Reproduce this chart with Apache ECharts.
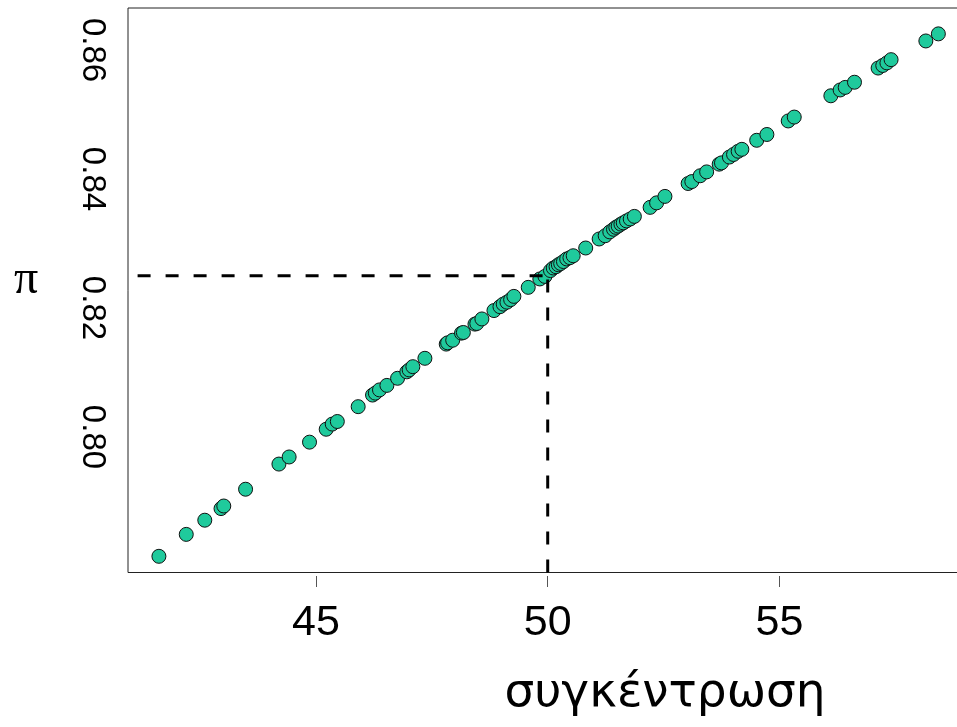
<!DOCTYPE html>
<html>
<head>
<meta charset="utf-8">
<script src="https://cdn.jsdelivr.net/npm/echarts@6/dist/echarts.min.js"></script>
<style>
html,body{margin:0;padding:0;background:#fff;}
#chart{width:957px;height:727px;}
</style>
</head>
<body>
<div id="chart"></div>
<script>
// concentration (x) and probability π (y)
const concentration = [
  41.61, 42.20, 42.60, 42.95, 43.01, 43.48, 44.20, 44.42, 44.86, 45.22,
  45.35, 45.46, 45.91, 46.22, 46.28, 46.37, 46.53, 46.76, 46.96, 47.01,
  47.09, 47.35, 47.81, 47.84, 47.95, 48.14, 48.18, 48.43, 48.47, 48.58,
  48.84, 48.97, 49.04, 49.12, 49.20, 49.27, 49.58, 49.83, 49.94, 50.06,
  50.12, 50.18, 50.23, 50.28, 50.34, 50.41, 50.48, 50.55, 50.82, 51.11,
  51.24, 51.34, 51.42, 51.47, 51.52, 51.58, 51.63, 51.70, 51.78, 51.87,
  52.21, 52.35, 52.53, 53.03, 53.11, 53.29, 53.43, 53.70, 53.75, 53.92,
  54.01, 54.11, 54.19, 54.51, 54.73, 55.19, 55.32, 56.11, 56.31, 56.42,
  56.62, 57.13, 57.23, 57.32, 57.41, 58.16, 58.43
];
const probability = [
  0.7815, 0.7849, 0.7871, 0.7889, 0.7893, 0.7919, 0.7958, 0.7969, 0.7992, 0.8012,
  0.8020, 0.8024, 0.8047, 0.8065, 0.8068, 0.8073, 0.8080, 0.8091, 0.8101, 0.8104,
  0.8109, 0.8122, 0.8144, 0.8146, 0.8150, 0.8161, 0.8162, 0.8175, 0.8176, 0.8183,
  0.8196, 0.8202, 0.8206, 0.8209, 0.8213, 0.8218, 0.8232, 0.8245, 0.8249, 0.8258,
  0.8262, 0.8264, 0.8267, 0.8269, 0.8272, 0.8276, 0.8278, 0.8281, 0.8293, 0.8307,
  0.8312, 0.8318, 0.8322, 0.8325, 0.8327, 0.8330, 0.8332, 0.8335, 0.8338, 0.8342,
  0.8356, 0.8363, 0.8373, 0.8393, 0.8396, 0.8405, 0.8411, 0.8423, 0.8425, 0.8434,
  0.8438, 0.8443, 0.8446, 0.8460, 0.8469, 0.8490, 0.8496, 0.8529, 0.8538, 0.8542,
  0.8550, 0.8572, 0.8576, 0.8580, 0.8585, 0.8614, 0.8625
];
const xTicks = [45, 50, 55];
const yTicks = [0.80, 0.82, 0.84, 0.86];
const refX = 50;
const refY = 0.825;
const xRange = [40.943, 58.897];
const yRange = [0.77899, 0.86651];
const refLineStartX = 41.15;
const xTitle = 'συγκέντρωση';
const yTitle = 'π';

const points = concentration.map((c, i) => [c, probability[i]]);

const chart = echarts.init(document.getElementById('chart'), null, {renderer: 'canvas'});
chart.setOption({
  animation: false,
  backgroundColor: '#ffffff',
  grid: {
    left: 128, top: 8, width: 832, height: 564.5,
    show: true, borderColor: '#222', borderWidth: 1,
    containLabel: false, outerBoundsMode: 'none'
  },
  xAxis: {
    type: 'value', min: xRange[0], max: xRange[1],
    offset: 3.5,
    axisLine: {show: false},
    splitLine: {show: false},
    axisTick: {show: true, length: 11, customValues: xTicks, lineStyle: {color: '#555', width: 1}},
    axisLabel: {
      customValues: xTicks, margin: 26,
      fontSize: 43, fontFamily: 'Liberation Sans, Arial, sans-serif', color: '#000'
    }
  },
  yAxis: {
    type: 'value', min: yRange[0], max: yRange[1],
    axisLine: {show: false},
    splitLine: {show: false},
    axisTick: {show: false},
    axisLabel: {
      customValues: yTicks, rotate: -90, margin: 19,
      formatter: v => v.toFixed(2),
      fontSize: 33, fontFamily: 'Liberation Sans, Arial, sans-serif', color: '#000'
    }
  },
  graphic: [
    {type: 'text', x: 665, y: 694, style: {text: xTitle, font: '47px "DejaVu Sans", "Liberation Sans", sans-serif', fill: '#000', textAlign: 'center', textVerticalAlign: 'middle'}},
    {type: 'text', x: 26, y: 280, style: {text: yTitle, font: '48px "Liberation Serif", "Times New Roman", serif', fill: '#000', textAlign: 'center', textVerticalAlign: 'middle'}}
  ],
  series: [
    {
      type: 'scatter', data: points, symbol: 'circle', symbolSize: 14,
      itemStyle: {color: '#1fca9c', borderColor: '#111', borderWidth: 1, opacity: 1},
      silent: true, z: 2
    },
    {
      type: 'line', data: [[refLineStartX, refY], [refX, refY]], symbol: 'none',
      lineStyle: {color: '#000', width: 3, type: [13, 15]}, silent: true, z: 3
    },
    {
      type: 'line', data: [[refX, yRange[0]], [refX, refY]], symbol: 'none',
      lineStyle: {color: '#000', width: 3, type: [13, 15]}, silent: true, z: 3
    }
  ]
});
</script>
</body>
</html>
